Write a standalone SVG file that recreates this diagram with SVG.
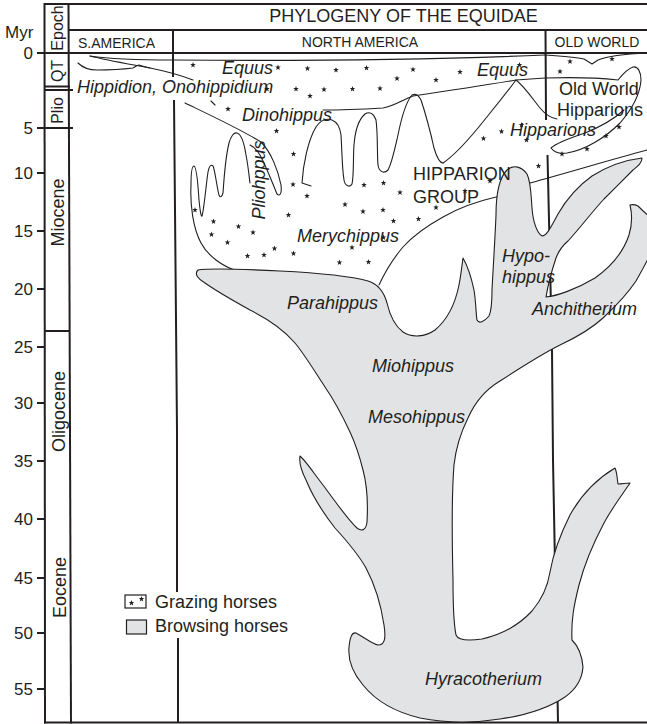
<svg xmlns="http://www.w3.org/2000/svg" width="647" height="724" viewBox="0 0 647 724">
<style>
.fr{stroke:#231f20;stroke-width:2;fill:none}
.ln{stroke:#231f20;stroke-width:1.1;fill:none;stroke-linejoin:round;stroke-linecap:round}
.gr{fill:#e2e3e5;stroke:#231f20;stroke-width:1.1;stroke-linejoin:round}
text{font-family:"Liberation Sans",Arial,sans-serif;fill:#231f20}
.sp{font-size:18px;font-style:italic}
.rg{font-size:18px}
.hd{font-size:14px}
.num{font-size:17px;text-anchor:end}
</style>
<defs>
<path id="st" d="M0,-3 L0.705,-0.971 L2.853,-0.927 L1.141,0.371 L1.763,2.427 L0,1.2 L-1.763,2.427 L-1.141,0.371 L-2.853,-0.927 L-0.705,-0.971 Z" fill="#231f20"/>
</defs>
<rect width="647" height="724" fill="#fff"/>

<g id="frame">
<line class="fr" x1="44" y1="4" x2="647" y2="4"/>
<line class="fr" x1="44.5" y1="3" x2="45" y2="723.5"/>
<line class="fr" x1="68.5" y1="3" x2="71" y2="723.5"/>
<line class="fr" x1="68" y1="30" x2="647" y2="30"/>
<line class="fr" x1="37" y1="53" x2="647" y2="53"/>
<line class="fr" x1="44" y1="722.5" x2="647" y2="722.5"/>
<line class="fr" x1="44" y1="86.5" x2="70" y2="86.5"/>
<line class="fr" x1="44" y1="90" x2="73" y2="90"/>
<line class="fr" x1="37" y1="128" x2="73" y2="128"/>
<line class="fr" x1="44" y1="331" x2="70" y2="331"/>
<path class="fr" d="M173,30 L173,77 M174,100 L177,430 L177,592 M178,638 L178,722"/>
<path class="fr" d="M545.5,30 L546,120 M547.5,155 L552,350 L553,460 L558,722"/>
</g>

<g id="axis">
<path class="fr" d="M37,173H44M37,231H44M37,289H44M37,347H44M37,403H44M37,461H44M37,519H44M37,578H44M37,633H44M37,689H44"/>
<text x="5" y="38" font-size="17">Myr</text>
<text class="num" x="33" y="59">0</text>
<text class="num" x="33" y="134">5</text>
<text class="num" x="33" y="179">10</text>
<text class="num" x="33" y="237">15</text>
<text class="num" x="33" y="295">20</text>
<text class="num" x="33" y="353">25</text>
<text class="num" x="33" y="409">30</text>
<text class="num" x="33" y="467">35</text>
<text class="num" x="33" y="525">40</text>
<text class="num" x="33" y="584">45</text>
<text class="num" x="33" y="639">50</text>
<text class="num" x="33" y="695">55</text>
</g>

<g id="epochs" text-anchor="middle">
<text font-size="16" transform="translate(62.7,28) rotate(-90)">Epoch</text>
<text font-size="16" transform="translate(62.7,71) rotate(-90)">QT</text>
<text font-size="16" transform="translate(62.7,110.5) rotate(-90)">Plio</text>
<text class="rg" transform="translate(64,212.5) rotate(-90)">Miocene</text>
<text class="rg" transform="translate(64.5,411.5) rotate(-90)">Oligocene</text>
<text class="rg" transform="translate(66,587.5) rotate(-90)">Eocene</text>
</g>

<g id="headers">
<text x="403.5" y="22" font-size="18" text-anchor="middle">PHYLOGENY OF THE EQUIDAE</text>
<text class="hd" x="78" y="47.5">S.AMERICA</text>
<text class="hd" x="360" y="47" text-anchor="middle">NORTH AMERICA</text>
<text class="hd" x="597" y="47" text-anchor="middle">OLD WORLD</text>
</g>

<g id="grazing-outlines">
<path class="ln" d="M90,56 C110,59 140,60 173,60 C300,61 450,59 545,55"/>
<path class="ln" d="M545,55 C560,56 575,57 584,59 L592,64 L598,60 C608,56 625,54 647,53"/>
<path class="ln" d="M90,56 C110,61 135,65 150,68 C165,71 180,75 193,80"/>
<path class="ln" d="M78,63 C82,67 88,70 97,70 C110,70 125,69 133,68 C135,67 137,65 139,65 C142,66 145,67 150,68"/>
<path class="ln" d="M211,101 L215,105"/>
<path class="ln" d="M185,103 C212,116 240,129 261,142 C271,152 278,170 281,185 C282,193 280,197 277,194 C272,182 266,166 260,155 C257,150 254,147 250,145"/>
<path class="ln" d="M237,271 C222,266 208,256 201,243 C193,228 190,205 191,185 C191,175 192,166 194,166 C197,167 198,185 199,200 C200,210 201,217 202,216 C204,210 206,185 208,172 C209,166 211,164 213,166 C215,170 217,188 219,195 C220,198 222,197 223,193 C224,178 226,155 229,143 C231,136 234,132 237,133 C241,134 244,142 246,155 C248,165 249,175 250,183"/>
<path class="ln" d="M311,186 L302,183 C303,165 308,140 316,127 C320,121 326,118 332,120 C337,122 340,127 341,135 C342,150 342,168 344,180 C345,186 350,188 352,184 C354,175 353,158 354,145 C355,132 358,120 365,114 C370,111 374,114 376,120 C378,135 377,155 378,165 C379,172 384,174 388,170 C392,163 395,148 398,135 C401,120 405,103 412,95 C416,93 419,96 421,100 C425,112 430,130 434,148 C437,158 440,163 443,163"/>
<path class="ln" d="M323,110 C340,110 365,109 383,108 C395,106 402,100 413,96 C440,92 480,86 516,80 L545,78 C575,77 600,78 618,80 C622,75 627,69 633,67 C638,66 641,72 641,80 C640,95 633,108 620,123 C605,138 585,150 567,153 C560,154 554,152 551,148 C556,143 570,138 585,133 C600,127 614,119 624,110"/>
<path class="ln" d="M443,163 C455,155 468,140 478,128 C490,113 505,95 516,80 C524,86 532,98 540,108 C545,114 550,118 557,119"/>
<path class="ln" d="M379,285 C385,272 392,260 403,247 C412,237 425,227 443,217 C455,210 470,203 496,197 L530,183 C570,172 610,160 647,150"/>
</g>

<g id="browsing-tree">
<path class="gr" d="M198,270 C210,268 240,269 280,271 C320,273 350,276 368,281 C378,284 384,292 387,303 C390,316 395,326 403,332 C412,338 425,337 435,330 C447,320 455,305 459,285 C461,275 462,265 463,258 C467,265 471,276 474,290 C476,302 476,315 477,320 C479,324 484,322 489,316 C492,310 492,300 492,290 C493,270 495,240 496,215 C496,195 499,178 507,170 C514,164 522,167 527,174 C531,182 531,195 532,208 C533,222 537,233 542,236 C547,236 552,225 558,214 C566,200 578,186 592,176 C608,166 625,160 642,158 C642,163 638,166 633,170 C625,178 613,190 604,199 C592,212 580,228 568,241 C562,246 559,250 556,258 C552,270 548,285 546,297 C556,296 575,290 595,278 C612,266 624,250 629,235 C632,225 632,213 630,205 C633,204 636,205 638,206 C641,209 645,213 650,217 L650,255 C645,265 640,274 636,281 C628,293 617,305 603,318 C590,330 575,338 560,345 C540,355 520,368 500,381 C485,390 475,402 468,418 C461,432 456,447 454,465 C452,490 452,540 453,580 C453,605 454,625 456,635 C458,640 468,641 482,639 C500,635 518,626 532,611 C543,598 548,585 550,572 C553,555 560,535 570,515 C580,497 595,480 615,468 C617,472 617,478 618,484 C622,484 626,483 630,483 C622,495 612,508 604,523 C595,540 585,562 579,585 C574,605 571,620 572,640 C578,646 582,655 583,667 C582,680 575,690 565,697 C550,707 528,715 500,719 C475,723 445,723 420,718 C395,712 375,700 363,685 C352,672 348,658 349,647 C350,637 352,632 356,633 C364,637 372,644 378,645 C385,645 386,638 384,625 C381,605 375,585 366,568 C357,552 346,540 335,528 C324,514 313,497 306,480 C301,470 299,462 300,456 C305,460 313,472 323,485 C335,501 348,520 357,528 C362,532 366,530 367,522 C368,505 367,485 363,470 C360,458 357,447 350,432 C342,415 334,400 325,387 C315,372 305,355 295,343 C285,331 270,320 250,310 C232,300 215,290 205,283 C198,279 194,274 198,270 Z"/>
</g>

<g id="stars">
<use href="#st" x="193" y="65"/><use href="#st" x="278" y="67.5"/><use href="#st" x="307.5" y="68.5"/><use href="#st" x="336" y="70"/><use href="#st" x="366.5" y="68"/><use href="#st" x="397" y="78.5"/><use href="#st" x="413" y="69.5"/><use href="#st" x="436" y="80"/><use href="#st" x="460" y="72"/><use href="#st" x="519.5" y="65"/><use href="#st" x="267" y="89"/><use href="#st" x="296" y="89"/><use href="#st" x="310" y="96"/><use href="#st" x="324" y="89.5"/><use href="#st" x="352.5" y="89"/><use href="#st" x="380" y="88.5"/>
<use href="#st" x="560" y="71.5"/><use href="#st" x="570" y="61.5"/><use href="#st" x="612" y="59"/>
<use href="#st" x="228" y="109"/><use href="#st" x="276.5" y="131"/><use href="#st" x="293.5" y="154"/><use href="#st" x="293" y="184.5"/><use href="#st" x="307" y="196"/><use href="#st" x="288.5" y="215"/><use href="#st" x="345" y="204.5"/><use href="#st" x="364" y="185"/><use href="#st" x="383.5" y="183"/><use href="#st" x="400" y="192.5"/><use href="#st" x="363" y="211.5"/><use href="#st" x="383" y="210"/><use href="#st" x="393.5" y="221"/><use href="#st" x="418.5" y="219"/><use href="#st" x="436" y="207.5"/><use href="#st" x="465" y="191"/><use href="#st" x="490" y="181"/><use href="#st" x="538.5" y="166"/><use href="#st" x="562" y="154"/><use href="#st" x="587" y="149"/><use href="#st" x="483.5" y="138.5"/><use href="#st" x="501.5" y="131.5"/><use href="#st" x="521.5" y="125"/><use href="#st" x="526.5" y="140"/><use href="#st" x="606" y="136"/><use href="#st" x="619" y="127"/>
<use href="#st" x="195" y="210"/><use href="#st" x="213.5" y="221.5"/><use href="#st" x="238.5" y="226.5"/><use href="#st" x="211.5" y="234.5"/><use href="#st" x="227.5" y="242.5"/><use href="#st" x="253" y="232.5"/><use href="#st" x="274.5" y="248.5"/><use href="#st" x="264" y="255"/><use href="#st" x="247.5" y="256"/><use href="#st" x="293.5" y="253.5"/><use href="#st" x="352" y="247.5"/><use href="#st" x="339.5" y="262.5"/><use href="#st" x="368.5" y="262"/><use href="#st" x="383.5" y="237.5"/>
</g>

<g id="labels">
<text class="sp" x="222" y="74">Equus</text>
<text class="sp" x="477" y="76">Equus</text>
<text class="sp" x="77" y="92.5">Hippidion, Onohippidium</text>
<text class="sp" x="242" y="121">Dinohippus</text>
<text class="sp" font-size="17" text-anchor="middle" transform="translate(265,180) rotate(-90)">Pliohppus</text>
<text class="sp" x="297" y="242">Merychippus</text>
<text class="rg" x="413" y="180">HIPPARION</text>
<text class="rg" x="413" y="203">GROUP</text>
<text class="sp" x="510" y="136">Hipparions</text>
<text class="rg" x="559" y="95">Old World</text>
<text class="rg" x="557" y="116">Hipparions</text>
<text class="sp" x="287" y="309">Parahippus</text>
<text class="sp" x="502" y="261.5">Hypo-</text>
<text class="sp" x="502" y="283">hippus</text>
<text class="sp" x="532" y="315">Anchitherium</text>
<text class="sp" x="372" y="372">Miohippus</text>
<text class="sp" x="368" y="422.5">Mesohippus</text>
<text class="sp" x="425" y="685">Hyracotherium</text>
</g>

<g id="legend">
<rect x="125" y="595" width="21" height="13" fill="#fff" stroke="#231f20" stroke-width="1.2"/>
<use href="#st" x="131.5" y="603"/><use href="#st" x="141.5" y="599"/>
<text class="rg" x="155" y="608">Grazing horses</text>
<rect x="126.5" y="620" width="20" height="14" fill="#e2e3e5" stroke="#231f20" stroke-width="1.2"/>
<text class="rg" x="155" y="632">Browsing horses</text>
</g>
</svg>
